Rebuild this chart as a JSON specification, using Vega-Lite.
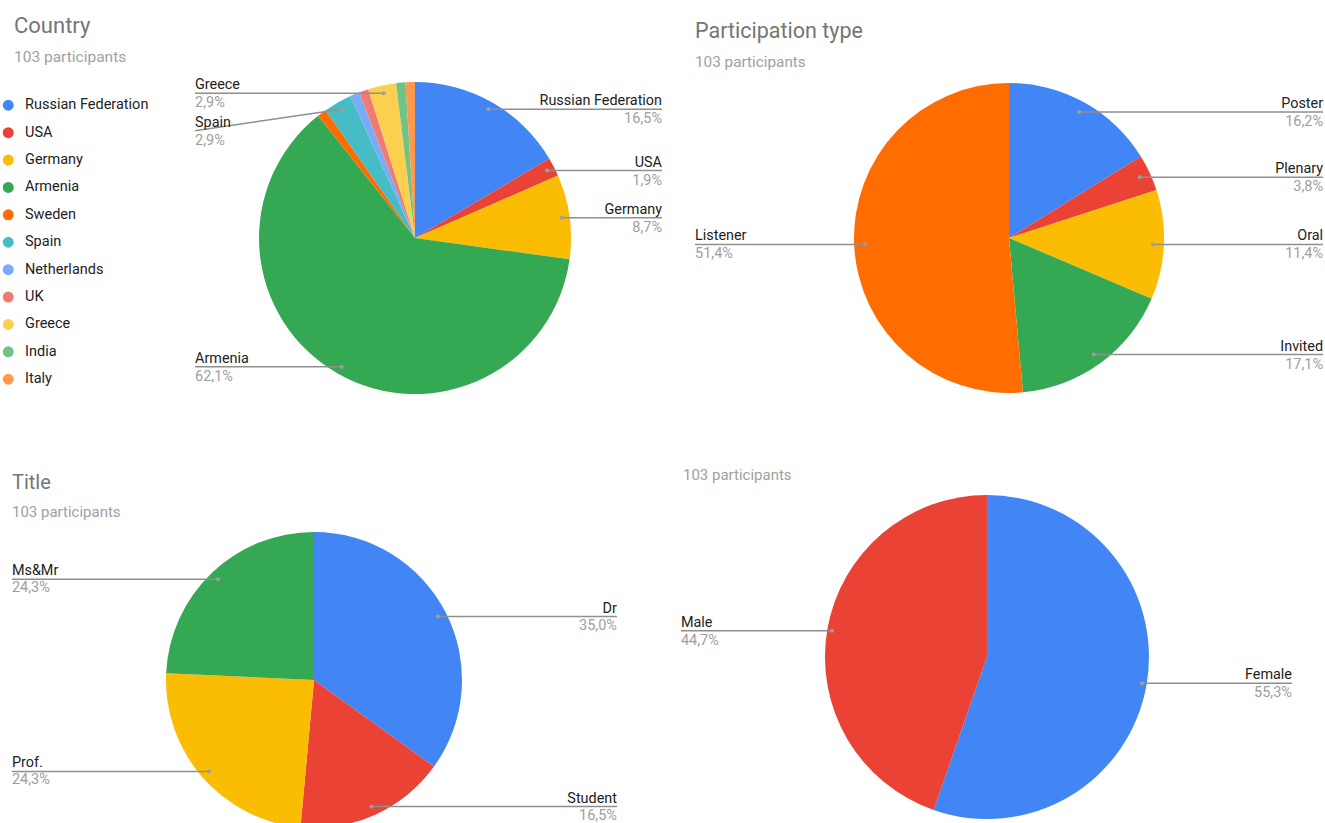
{
  "$schema": "https://vega.github.io/schema/vega-lite/v6.json",
  "background": "white",
  "padding": {"left": 0, "top": 14, "right": 0, "bottom": 0},
  "spacing": 67,
  "resolve": {"scale": {"color": "independent", "x": "independent", "y": "independent", "theta": "independent"}, "legend": {"color": "independent"}},
  "config": {
    "font": "Roboto",
    "view": {"stroke": null},
    "title": {"anchor": "start", "frame": "group", "font": "Roboto", "fontWeight": "normal", "color": "#757575", "subtitleFont": "Roboto", "subtitleColor": "#a0a0a0"}
  },
  "vconcat": [
    {
      "spacing": 12,
      "resolve": {"scale": {"color": "independent", "x": "independent", "y": "independent", "theta": "independent"}, "legend": {"color": "independent"}},
      "hconcat": [
        {
          "width": 672, "height": 330,
          "title": {"text": "Country", "subtitle": "103 participants", "dx": 14, "fontSize": 22, "subtitleFontSize": 15.5, "subtitlePadding": 12, "offset": 5},
          "data": {"values": [
            {"k": "Russian Federation", "n": 17, "i": 1},
            {"k": "USA", "n": 2, "i": 2},
            {"k": "Germany", "n": 9, "i": 3},
            {"k": "Armenia", "n": 64, "i": 4},
            {"k": "Sweden", "n": 1, "i": 5},
            {"k": "Spain", "n": 3, "i": 6},
            {"k": "Netherlands", "n": 1, "i": 7},
            {"k": "UK", "n": 1, "i": 8},
            {"k": "Greece", "n": 3, "i": 9},
            {"k": "India", "n": 1, "i": 10},
            {"k": "Italy", "n": 1, "i": 11}
          ]},
          "transform": [
            {"joinaggregate": [{"op": "sum", "field": "n", "as": "total"}]},
            {"window": [{"op": "sum", "field": "n", "as": "cum"}], "sort": [{"field": "i", "order": "ascending"}], "frame": [null, 0]},
            {"calculate": "(datum.cum - datum.n/2)/datum.total*2*PI", "as": "a"},
            {"calculate": "sin(datum.a) >= 0 ? 1 : -1", "as": "side"},
            {"calculate": "0.95*sin(datum.a)", "as": "px"},
            {"calculate": "0.95*cos(datum.a)", "as": "py"},
            {"calculate": "datum.side > 0 ? 1.583 : -1.41", "as": "lx"},
            {"calculate": "replace(format(datum.n/datum.total, '.1%'), '.', ',')", "as": "pl"}
          ],
          "layer": [
            {
              "mark": {"type": "arc", "outerRadius": 156},
              "encoding": {
                "theta": {"field": "n", "type": "quantitative", "stack": true},
                "order": {"field": "i", "type": "quantitative"},
                "color": {"field": "k", "type": "nominal",
                  "scale": {"domain": ["Russian Federation", "USA", "Germany", "Armenia", "Sweden", "Spain", "Netherlands", "UK", "Greece", "India", "Italy"],
                            "range": ["#4285F4", "#EA4335", "#FBBC04", "#34A853", "#FF6D01", "#46BDC6", "#7BAAF7", "#F07B72", "#FCD04F", "#71C287", "#FF994D"]},
                  "legend": {"orient": "none", "legendX": 1, "legendY": 27, "title": null, "symbolType": "circle", "symbolSize": 120, "symbolStrokeWidth": 0, "labelFontSize": 14.5, "labelColor": "#222222", "labelFont": "Roboto", "rowPadding": 12.4, "labelOffset": 9.5, "padding": 0}},
                "x": {"datum": 0, "type": "quantitative", "scale": {"domain": [-2.660, 1.647], "nice": false, "zero": false}, "axis": null},
                "y": {"datum": 0, "type": "quantitative", "scale": {"domain": [-1.045, 1.071], "nice": false, "zero": false}, "axis": null}
              }
            },
            {
              "transform": [
                {"filter": "datum.n/datum.total >= 0.015"},
                {"window": [{"op": "lag", "field": "py", "as": "prev"}], "groupby": ["side"], "sort": [{"field": "py", "order": "descending"}]},
                {"calculate": "isValid(datum.prev) && datum.prev - datum.py < 0.24 ? datum.prev - 0.24 : datum.py", "as": "ly"}
              ],
              "layer": [
                {"mark": {"type": "rule", "color": "#8f8f8f", "strokeWidth": 1.5},
                 "encoding": {"x": {"field": "lx", "type": "quantitative"}, "y": {"field": "ly", "type": "quantitative"}, "x2": {"field": "px"}, "y2": {"field": "py"}}},
                {"mark": {"type": "point", "filled": true, "size": 16, "color": "#9e9e9e", "opacity": 1},
                 "encoding": {"x": {"field": "px", "type": "quantitative"}, "y": {"field": "py", "type": "quantitative"}}},
                {"mark": {"type": "text", "align": {"expr": "datum.side > 0 ? 'right' : 'left'"}, "baseline": "alphabetic", "dy": -4, "fontSize": 14.4, "color": "#222222", "font": "Roboto"},
                 "encoding": {"x": {"field": "lx", "type": "quantitative"}, "y": {"field": "ly", "type": "quantitative"}, "text": {"field": "k"}}},
                {"mark": {"type": "text", "align": {"expr": "datum.side > 0 ? 'right' : 'left'"}, "baseline": "top", "dy": 3, "fontSize": 14.5, "color": "#9e9e9e", "font": "Roboto"},
                 "encoding": {"x": {"field": "lx", "type": "quantitative"}, "y": {"field": "ly", "type": "quantitative"}, "text": {"field": "pl"}}}
              ]
            }
          ]
        },
        {
          "width": 640, "height": 330,
          "title": {"text": "Participation type", "subtitle": "103 participants", "dx": 11, "dy": 4, "fontSize": 21.5, "subtitleFontSize": 15.3, "subtitlePadding": 12, "offset": 5},
          "data": {"values": [
            {"k": "Poster", "n": 17, "i": 1},
            {"k": "Plenary", "n": 4, "i": 2},
            {"k": "Oral", "n": 12, "i": 3},
            {"k": "Invited", "n": 18, "i": 4},
            {"k": "Listener", "n": 54, "i": 5}
          ]},
          "transform": [
            {"joinaggregate": [{"op": "sum", "field": "n", "as": "total"}]},
            {"window": [{"op": "sum", "field": "n", "as": "cum"}], "sort": [{"field": "i", "order": "ascending"}], "frame": [null, 0]},
            {"calculate": "(datum.cum - datum.n/2)/datum.total*2*PI", "as": "a"},
            {"calculate": "sin(datum.a) >= 0 ? 1 : -1", "as": "side"},
            {"calculate": "0.93*sin(datum.a)", "as": "px"},
            {"calculate": "0.93*cos(datum.a)", "as": "py"},
            {"calculate": "datum.side > 0 ? 2.026 : -2.026", "as": "lx"},
            {"calculate": "replace(format(datum.n/datum.total, '.1%'), '.', ',')", "as": "pl"}
          ],
          "layer": [
            {
              "mark": {"type": "arc", "outerRadius": 155},
              "encoding": {
                "theta": {"field": "n", "type": "quantitative", "stack": true},
                "order": {"field": "i", "type": "quantitative"},
                "color": {"field": "k", "type": "nominal",
                  "scale": {"domain": ["Poster", "Plenary", "Oral", "Invited", "Listener"], "range": ["#4285F4", "#EA4335", "#FBBC04", "#34A853", "#FF6D01"]},
                  "legend": null},
                "x": {"datum": 0, "type": "quantitative", "scale": {"domain": [-2.097, 2.032], "nice": false, "zero": false}, "axis": null},
                "y": {"datum": 0, "type": "quantitative", "scale": {"domain": [-1.052, 1.077], "nice": false, "zero": false}, "axis": null}
              }
            },
            {
              "transform": [
                {"filter": "datum.n/datum.total >= 0.015"},
                {"window": [{"op": "lag", "field": "py", "as": "prev"}], "groupby": ["side"], "sort": [{"field": "py", "order": "descending"}]},
                {"calculate": "isValid(datum.prev) && datum.prev - datum.py < 0.24 ? datum.prev - 0.24 : datum.py", "as": "ly"}
              ],
              "layer": [
                {"mark": {"type": "rule", "color": "#8f8f8f", "strokeWidth": 1.5},
                 "encoding": {"x": {"field": "lx", "type": "quantitative"}, "y": {"field": "ly", "type": "quantitative"}, "x2": {"field": "px"}, "y2": {"field": "py"}}},
                {"mark": {"type": "point", "filled": true, "size": 16, "color": "#9e9e9e", "opacity": 1},
                 "encoding": {"x": {"field": "px", "type": "quantitative"}, "y": {"field": "py", "type": "quantitative"}}},
                {"mark": {"type": "text", "align": {"expr": "datum.side > 0 ? 'right' : 'left'"}, "baseline": "alphabetic", "dy": -4, "fontSize": 14.4, "color": "#222222", "font": "Roboto"},
                 "encoding": {"x": {"field": "lx", "type": "quantitative"}, "y": {"field": "ly", "type": "quantitative"}, "text": {"field": "k"}}},
                {"mark": {"type": "text", "align": {"expr": "datum.side > 0 ? 'right' : 'left'"}, "baseline": "top", "dy": 3, "fontSize": 14.5, "color": "#9e9e9e", "font": "Roboto"},
                 "encoding": {"x": {"field": "lx", "type": "quantitative"}, "y": {"field": "ly", "type": "quantitative"}, "text": {"field": "pl"}}}
              ]
            }
          ]
        }
      ]
    },
    {
      "spacing": 12,
      "resolve": {"scale": {"color": "independent", "x": "independent", "y": "independent", "theta": "independent"}, "legend": {"color": "independent"}},
      "hconcat": [
        {
          "width": 650, "height": 299,
          "title": {"text": "Title", "subtitle": "103 participants", "dx": 12, "fontSize": 20, "subtitleFontSize": 15, "subtitlePadding": 12, "offset": 5},
          "data": {"values": [
            {"k": "Dr", "n": 36, "i": 1},
            {"k": "Student", "n": 17, "i": 2},
            {"k": "Prof.", "n": 25, "i": 3},
            {"k": "Ms&Mr", "n": 25, "i": 4}
          ]},
          "transform": [
            {"joinaggregate": [{"op": "sum", "field": "n", "as": "total"}]},
            {"window": [{"op": "sum", "field": "n", "as": "cum"}], "sort": [{"field": "i", "order": "ascending"}], "frame": [null, 0]},
            {"calculate": "(datum.cum - datum.n/2)/datum.total*2*PI", "as": "a"},
            {"calculate": "sin(datum.a) >= 0 ? 1 : -1", "as": "side"},
            {"calculate": "0.94*sin(datum.a)", "as": "px"},
            {"calculate": "0.94*cos(datum.a)", "as": "py"},
            {"calculate": "datum.side > 0 ? 2.047 : -2.041", "as": "lx"},
            {"calculate": "replace(format(datum.n/datum.total, '.1%'), '.', ',')", "as": "pl"}
          ],
          "layer": [
            {
              "mark": {"type": "arc", "outerRadius": 148, "clip": true},
              "encoding": {
                "theta": {"field": "n", "type": "quantitative", "stack": true},
                "order": {"field": "i", "type": "quantitative"},
                "color": {"field": "k", "type": "nominal",
                  "scale": {"domain": ["Dr", "Student", "Prof.", "Ms&Mr"], "range": ["#4285F4", "#EA4335", "#FBBC04", "#34A853"]},
                  "legend": null},
                "x": {"datum": 0, "type": "quantitative", "scale": {"domain": [-2.1216, 2.2703], "nice": false, "zero": false}, "axis": null},
                "y": {"datum": 0, "type": "quantitative", "scale": {"domain": [-0.973, 1.047], "nice": false, "zero": false}, "axis": null}
              }
            },
            {
              "transform": [
                {"filter": "datum.n/datum.total >= 0.015"},
                {"window": [{"op": "lag", "field": "py", "as": "prev"}], "groupby": ["side"], "sort": [{"field": "py", "order": "descending"}]},
                {"calculate": "isValid(datum.prev) && datum.prev - datum.py < 0.24 ? datum.prev - 0.24 : datum.py", "as": "ly"}
              ],
              "layer": [
                {"mark": {"type": "rule", "color": "#8f8f8f", "strokeWidth": 1.5},
                 "encoding": {"x": {"field": "lx", "type": "quantitative"}, "y": {"field": "ly", "type": "quantitative"}, "x2": {"field": "px"}, "y2": {"field": "py"}}},
                {"mark": {"type": "point", "filled": true, "size": 16, "color": "#9e9e9e", "opacity": 1},
                 "encoding": {"x": {"field": "px", "type": "quantitative"}, "y": {"field": "py", "type": "quantitative"}}},
                {"mark": {"type": "text", "align": {"expr": "datum.side > 0 ? 'right' : 'left'"}, "baseline": "alphabetic", "dy": -4, "fontSize": 14.4, "color": "#222222", "font": "Roboto"},
                 "encoding": {"x": {"field": "lx", "type": "quantitative"}, "y": {"field": "ly", "type": "quantitative"}, "text": {"field": "k"}}},
                {"mark": {"type": "text", "align": {"expr": "datum.side > 0 ? 'right' : 'left'"}, "baseline": "top", "dy": 2, "fontSize": 14.5, "color": "#9e9e9e", "font": "Roboto", "clip": true},
                 "encoding": {"x": {"field": "lx", "type": "quantitative"}, "y": {"field": "ly", "type": "quantitative"}, "text": {"field": "pl"}}}
              ]
            }
          ]
        },
        {
          "width": 658, "height": 299,
          "title": {"text": "103 participants", "dx": 21, "fontSize": 15, "color": "#a0a0a0", "offset": 12},
          "data": {"values": [
            {"k": "Female", "n": 57, "i": 1},
            {"k": "Male", "n": 46, "i": 2}
          ]},
          "transform": [
            {"joinaggregate": [{"op": "sum", "field": "n", "as": "total"}]},
            {"window": [{"op": "sum", "field": "n", "as": "cum"}], "sort": [{"field": "i", "order": "ascending"}], "frame": [null, 0]},
            {"calculate": "(datum.cum - datum.n/2)/datum.total*2*PI", "as": "a"},
            {"calculate": "sin(datum.a) >= 0 ? 1 : -1", "as": "side"},
            {"calculate": "0.97*sin(datum.a)", "as": "px"},
            {"calculate": "0.97*cos(datum.a)", "as": "py"},
            {"calculate": "datum.side > 0 ? 1.883 : -1.889", "as": "lx"},
            {"calculate": "replace(format(datum.n/datum.total, '.1%'), '.', ',')", "as": "pl"}
          ],
          "layer": [
            {
              "mark": {"type": "arc", "outerRadius": 162},
              "encoding": {
                "theta": {"field": "n", "type": "quantitative", "stack": true},
                "order": {"field": "i", "type": "quantitative"},
                "color": {"field": "k", "type": "nominal",
                  "scale": {"domain": ["Female", "Male"], "range": ["#4285F4", "#EA4335"]},
                  "legend": null},
                "x": {"datum": 0, "type": "quantitative", "scale": {"domain": [-2.006, 2.056], "nice": false, "zero": false}, "axis": null},
                "y": {"datum": 0, "type": "quantitative", "scale": {"domain": [-1.031, 0.815], "nice": false, "zero": false}, "axis": null}
              }
            },
            {
              "transform": [
                {"filter": "datum.n/datum.total >= 0.015"},
                {"window": [{"op": "lag", "field": "py", "as": "prev"}], "groupby": ["side"], "sort": [{"field": "py", "order": "descending"}]},
                {"calculate": "isValid(datum.prev) && datum.prev - datum.py < 0.24 ? datum.prev - 0.24 : datum.py", "as": "ly"}
              ],
              "layer": [
                {"mark": {"type": "rule", "color": "#8f8f8f", "strokeWidth": 1.5},
                 "encoding": {"x": {"field": "lx", "type": "quantitative"}, "y": {"field": "ly", "type": "quantitative"}, "x2": {"field": "px"}, "y2": {"field": "py"}}},
                {"mark": {"type": "point", "filled": true, "size": 16, "color": "#9e9e9e", "opacity": 1},
                 "encoding": {"x": {"field": "px", "type": "quantitative"}, "y": {"field": "py", "type": "quantitative"}}},
                {"mark": {"type": "text", "align": {"expr": "datum.side > 0 ? 'right' : 'left'"}, "baseline": "alphabetic", "dy": -4, "fontSize": 14.4, "color": "#222222", "font": "Roboto"},
                 "encoding": {"x": {"field": "lx", "type": "quantitative"}, "y": {"field": "ly", "type": "quantitative"}, "text": {"field": "k"}}},
                {"mark": {"type": "text", "align": {"expr": "datum.side > 0 ? 'right' : 'left'"}, "baseline": "top", "dy": 3, "fontSize": 14.5, "color": "#9e9e9e", "font": "Roboto"},
                 "encoding": {"x": {"field": "lx", "type": "quantitative"}, "y": {"field": "ly", "type": "quantitative"}, "text": {"field": "pl"}}}
              ]
            }
          ]
        }
      ]
    }
  ]
}
